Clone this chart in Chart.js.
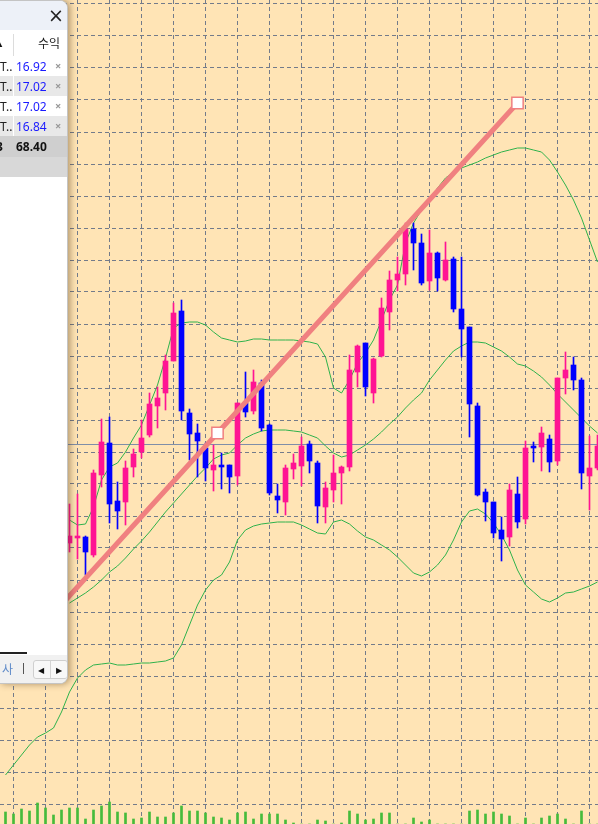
<!DOCTYPE html>
<html>
<head>
<meta charset="utf-8">
<script src="https://cdn.jsdelivr.net/npm/chart.js@4.4.1/dist/chart.umd.min.js"></script>
<style>
  html, body { margin: 0; padding: 0; background: #ffe4b5; overflow: hidden; }
  #wrap { position: absolute; left: 0; top: 0; width: 598px; height: 824px; }
  #panel {
    position: absolute; left: 0; top: 0; width: 67px; height: 682px;
    background: #fff; border: 1px solid #c4c4c4; border-left: none;
    border-radius: 0 8px 8px 0; box-shadow: 2px 0 7px rgba(70, 45, 10, 0.45);
    overflow: hidden; font-family: "Noto Sans", "Liberation Sans", sans-serif; font-size: 12px;
  }
  #panel div, #panel span { position: absolute; white-space: nowrap; }
  .hdr { left: 0; top: 0; width: 67px; height: 29px; background: #edf1f8; }
  .close { left: 48px; top: 3px; font: 19px "DejaVu Sans"; color: #222; }
  .vline { width: 1px; background: #dcdcdc; }
  .row { left: 0; width: 67px; height: 20px; }
  .row.alt { background: #e8e8e8; }
  .name { left: 0; width: 12px; text-align: right; overflow: hidden; color: #222; top: 2px; }
  .name span { position: static !important; }
  .num { left: 16px; top: 2px; color: #1a1aff; }
  .del { left: 55px; top: 2px; color: #9a9a9a; font-weight: bold; font-size: 11px; }
  .bot { left: 0; top: 654px; width: 67px; height: 30px; background: #f1f1f1; }
</style>
</head>
<body>
<div id="wrap"><canvas id="chart"></canvas></div>

<div id="panel">
  <div class="hdr"><span class="close">×</span></div>
  <span style="left:-4px; top:37px; font-size:8px; color:#111;">▲</span>
  <div class="vline" style="left:13px; top:33px; height:22px;"></div>
  <span style="left:38px; top:33px; font-family:'Noto Sans CJK KR'; font-size:12px; color:#222;">수익</span>

  <div class="row" style="top:55px;"><div class="name"><span>T...</span></div><span class="num">16.92</span><span class="del">×</span></div>
  <div class="row alt" style="top:75px;"><div class="name"><span>T...</span></div><span class="num">17.02</span><span class="del">×</span></div>
  <div class="row" style="top:95px;"><div class="name"><span>T...</span></div><span class="num">17.02</span><span class="del">×</span></div>
  <div class="row alt" style="top:115px;"><div class="name"><span>T...</span></div><span class="num">16.84</span><span class="del">×</span></div>
  <div class="vline" style="left:13px; top:55px; height:80px; background:#ffffff;"></div>

  <div class="row" style="top:135px; height:21px; background:#cfcfcf;">
    <span style="left:-4px; top:2px; font-weight:bold; color:#111;">3</span>
    <span style="left:16px; top:2px; font-weight:bold; color:#111;">68.40</span>
  </div>
  <div class="row" style="top:156px; height:20px; background:#d8d8d8;"></div>

  <div style="left:0; top:651px; width:27px; height:2px; background:#222;"></div>
  <div class="bot">
    <span style="left:2px; top:5px; font-family:'Noto Sans CJK KR'; font-size:12px; color:#5f8bc9;">사</span>
    <div style="left:23px; top:8px; width:1px; height:11px; background:#555;"></div>
    <div style="left:33px; top:5px; width:33px; height:17px; border:1px solid #cfcfcf; border-radius:3px; background:#f8f8f8;">
      <span style="left:4px; top:3px; font-size:8px; color:#111;">◀</span>
      <div style="left:16px; top:0; width:1px; height:17px; background:#d4d4d4;"></div>
      <span style="left:22px; top:3px; font-size:8px; color:#111;">▶</span>
    </div>
  </div>
</div>

<script>
// one candle every 8 px, index 0..74; candles hidden under the panel are unknown (null)
const N = 75;
const open = [null, null, null, null, null, null, null, null,
  1261, 1266, 1267, 1249, 1329, 1361, 1303, 1302, 1337, 1352, 1369, 1398, 1411, 1443, 1493, 1391,
  1371, 1356, 1334, 1338, 1339, 1328, 1401, 1393, 1421, 1379, 1308, 1302, 1335, 1338, 1360, 1341,
  1297, 1314, 1331, 1337, 1432, 1461, 1411, 1448, 1492, 1524, 1530, 1575, 1561, 1523, 1551, 1524,
  1545, 1495, 1477, 1398, 1312, 1302, 1274, 1267, 1310, 1285, 1357, 1357, 1365, 1343, 1426, 1439,
  1424, 1328, 1336];
const high = [null, null, null, null, null, null, null, null,
  1300, 1310, 1268, 1334, 1385, 1387, 1322, 1343, 1355, 1384, 1411, 1417, 1449, 1501, 1504, 1395,
  1380, 1361, 1359, 1351, 1339, 1401, 1432, 1434, 1424, 1380, 1320, 1339, 1350, 1367, 1363, 1343,
  1322, 1349, 1338, 1449, 1459, 1461, 1446, 1506, 1533, 1547, 1581, 1581, 1570, 1574, 1552, 1562,
  1547, 1547, 1477, 1401, 1315, 1302, 1287, 1320, 1327, 1363, 1362, 1377, 1369, 1426, 1452, 1447,
  1426, 1368, 1369];
const low = [null, null, null, null, null, null, null, null,
  1252, 1245, 1229, 1247, 1317, 1281, 1275, 1279, 1327, 1346, 1367, 1376, 1394, 1443, 1384, 1344,
  1327, 1323, 1313, 1315, 1311, 1319, 1387, 1390, 1373, 1309, 1291, 1289, 1325, 1318, 1331, 1281,
  1281, 1302, 1300, 1333, 1417, 1408, 1401, 1447, 1474, 1513, 1519, 1534, 1519, 1514, 1513, 1523,
  1492, 1447, 1367, 1308, 1283, 1266, 1243, 1258, 1276, 1280, 1342, 1333, 1332, 1339, 1410, 1414,
  1315, 1294, 1334];
const close = [null, null, null, null, null, null, null, null,
  1268, 1267, 1252, 1331, 1362, 1300, 1293, 1336, 1350, 1366, 1400, 1406, 1443, 1491, 1393, 1370,
  1363, 1336, 1339, 1337, 1327, 1401, 1392, 1422, 1376, 1311, 1304, 1336, 1341, 1358, 1343, 1298,
  1316, 1331, 1337, 1434, 1458, 1417, 1445, 1496, 1524, 1530, 1575, 1561, 1521, 1551, 1526, 1544,
  1495, 1475, 1400, 1309, 1302, 1271, 1265, 1314, 1282, 1356, 1356, 1371, 1342, 1426, 1434, 1424,
  1331, 1336, 1358];

// Bollinger bands
const bandUpper = [null, null, null, null, null, null, null, null,
  1284, 1279, 1280, 1297, 1324, 1337, 1341, 1352, 1366, 1379, 1399, 1419, 1446, 1476, 1481, 1482,
  1482, 1479, 1472, 1466, 1464, 1462, 1463, 1465, 1465, 1464, 1464, 1464, 1464, 1463, 1462, 1460,
  1447, 1416, 1411, 1424, 1441, 1451, 1464, 1484, 1504, 1519, 1561, 1581, 1594, 1604, 1616, 1626,
  1632, 1636, 1639, 1642, 1646, 1649, 1652, 1654, 1656, 1656, 1654, 1652, 1644, 1632, 1619, 1604,
  1586, 1564, 1542];
const bandMiddle = [null, null, null, null, null, null, null, null,
  1201, 1206, 1211, 1217, 1224, 1232, 1238, 1246, 1255, 1263, 1272, 1282, 1292, 1301, 1310, 1319,
  1328, 1336, 1345, 1349, 1351, 1359, 1366, 1370, 1373, 1374, 1374, 1374, 1373, 1372, 1369, 1366,
  1358, 1351, 1347, 1349, 1354, 1359, 1365, 1372, 1380, 1387, 1396, 1404, 1411, 1424, 1434, 1444,
  1453, 1458, 1462, 1462, 1461, 1457, 1453, 1447, 1440, 1438, 1433, 1427, 1419, 1410, 1402, 1394,
  1386, 1378, 1371];
const bandLower = [1029, 1039, 1049, 1059, 1067, 1071, 1076, 1092,
  1112, 1126, 1134, 1139, 1140, 1141, 1139, 1139, 1140, 1141, 1141, 1142, 1143, 1146, 1159, 1179,
  1199, 1214, 1224, 1229, 1242, 1264, 1274, 1278, 1280, 1281, 1282, 1282, 1282, 1279, 1275, 1271,
  1270, 1282, 1284, 1280, 1273, 1267, 1264, 1259, 1254, 1247, 1239, 1231, 1228, 1232, 1239, 1249,
  1264, 1282, 1293, 1295, 1290, 1281, 1269, 1254, 1234, 1219, 1212, 1205, 1202, 1206, 1211, 1212,
  1215, 1218, 1222];

// volume strip at the bottom
const volume = [12, 10, 15, 13, 21, 16, 9, 14, 16, 16, 5, 14, 18, 22, 12, 11, 5, 6, 12, 7,
  7, 11, 18, 13, 13, 11, 7, 6, 4, 11, 12, 5, 10, 10, 10, 4, 1, 0, 0, 4,
  3, 0, 1, 13, 10, 4, 5, 11, 11, 0, 0, 6, 2, 4, 0, 0, 0, 0, 13, 14,
  10, 12, 10, 8, 0, 6, 0, 6, 8, 10, 5, 0, 13, 0, 0];

// trend line (start, middle handle, end handle) and horizontal price line
const trendX = [-11, 26.5, 64];
const trendY = [1041, 1371, 1701];
const priceLine = 1359.5;

// grid
const gridCols = [1, 5, 9, 13, 17, 21, 25, 29, 33, 37, 41, 45, 49, 53, 57, 61, 65, 69, 73];
const gridRows = Array.from({ length: 26 }, (_, i) => 1000 + 32 * i);

const UP = '#ff1493';
const DOWN = '#0000ff';
const BAND = '#2fb24c';
const GRID = '#737b8a';

const idx = Array.from({ length: N }, (_, k) => k).filter(k => open[k] !== null);
const colors = idx.map(k => (close[k] >= open[k] ? UP : DOWN));
const line = arr => arr.map((v, k) => ({ x: k, y: v }));

new Chart(document.getElementById('chart'), {
  type: 'bar',
  data: {
    datasets: [
      {
        type: 'line',
        label: 'trend',
        data: trendX.map((x, i) => ({ x: x, y: trendY[i] })),
        borderColor: '#f08080',
        borderWidth: 5,
        pointStyle: 'rect',
        pointRadius: [0, 8, 8],
        pointBackgroundColor: '#ffffff',
        pointBorderColor: '#f08080',
        pointBorderWidth: 1.5,
        order: 0,
      },
      {
        label: 'body',
        data: idx.map(k => ({ x: k, y: [open[k], close[k]] })),
        backgroundColor: colors,
        barThickness: 5,
        minBarLength: 2,
        grouped: false,
        order: 1,
      },
      {
        label: 'wick',
        data: idx.map(k => ({ x: k, y: [low[k], high[k]] })),
        backgroundColor: colors,
        barThickness: 1,
        grouped: false,
        order: 2,
      },
      { type: 'line', label: 'upper', data: line(bandUpper), borderColor: BAND, borderWidth: 1, pointRadius: 0, order: 3 },
      { type: 'line', label: 'middle', data: line(bandMiddle), borderColor: BAND, borderWidth: 1, pointRadius: 0, order: 3 },
      { type: 'line', label: 'lower', data: line(bandLower), borderColor: BAND, borderWidth: 1, pointRadius: 0, order: 3 },
      {
        type: 'line',
        label: 'price',
        data: [{ x: -1, y: priceLine }, { x: N, y: priceLine }],
        borderColor: '#7f8ea8',
        borderWidth: 1,
        pointRadius: 0,
        order: 4,
      },
      {
        label: 'volume',
        data: line(volume),
        yAxisID: 'yVol',
        backgroundColor: '#45bb3c',
        barThickness: 2,
        grouped: false,
        order: 5,
      },
    ],
  },
  options: {
    responsive: true,
    maintainAspectRatio: false,
    animation: false,
    layout: { padding: 0, autoPadding: false },
    plugins: { legend: { display: false }, tooltip: { enabled: false } },
    scales: {
      x: {
        type: 'linear',
        offset: false,
        min: -0.6875,
        max: 74.0625,
        ticks: { display: false },
        grid: { color: GRID, drawTicks: false, offset: false },
        border: { display: false, dash: [4, 3] },
        afterBuildTicks: s => { s.ticks = gridCols.map(v => ({ value: v })); },
        afterFit: s => { s.height = 0; },
      },
      y: {
        type: 'linear',
        min: 980,
        max: 1804,
        ticks: { display: false },
        grid: { color: GRID, drawTicks: false },
        border: { display: false, dash: [4, 3] },
        afterBuildTicks: s => { s.ticks = gridRows.map(v => ({ value: v })); },
        afterFit: s => { s.width = 0; },
      },
      yVol: { type: 'linear', min: 0, max: 824, display: false },
    },
  },
});
</script>
</body>
</html>
